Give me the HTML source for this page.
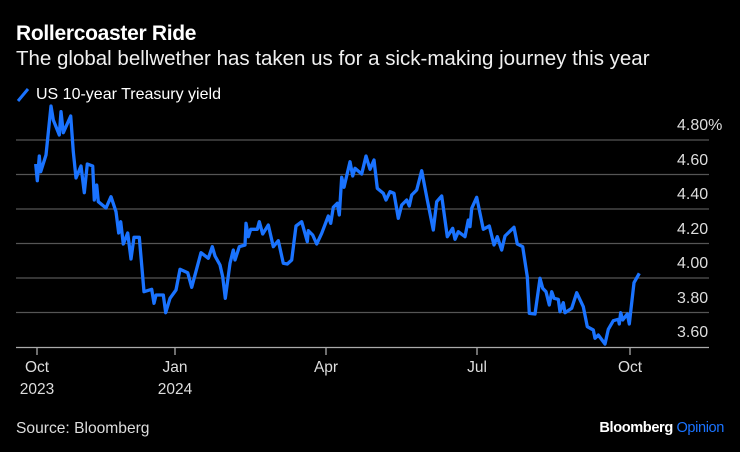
<!DOCTYPE html>
<html><head><meta charset="utf-8"><style>
html,body{margin:0;padding:0;background:#000;}
body{width:740px;height:452px;overflow:hidden;font-family:"Liberation Sans",sans-serif;color:#fff;position:relative;}
.t{position:absolute;left:16px;top:22px;font-size:21px;font-weight:bold;letter-spacing:-0.3px;}
.s{position:absolute;left:16px;top:47px;font-size:20.5px;color:#f0f0f0;}
.l{position:absolute;left:36px;top:86px;font-size:16px;}
.src{position:absolute;left:16px;top:420px;font-size:15.6px;color:#ddd;}
.bb{position:absolute;right:16px;top:420px;font-size:14.6px;font-weight:bold;letter-spacing:-0.4px;}
.bb span{color:#1a73ff;font-weight:normal;}
</style></head><body>
<div class="t">Rollercoaster Ride</div>
<div class="s">The global bellwether has taken us for a sick-making journey this year</div>
<svg style="position:absolute;left:0;top:0" width="740" height="452">
<line x1="18" y1="101" x2="28" y2="89" stroke="#1a73ff" stroke-width="3"/>
<g stroke="#555" stroke-width="1.3">
<line x1="16" y1="140" x2="709" y2="140"/><line x1="16" y1="174.5" x2="709" y2="174.5"/>
<line x1="16" y1="209" x2="709" y2="209"/><line x1="16" y1="243.5" x2="709" y2="243.5"/>
<line x1="16" y1="278" x2="709" y2="278"/><line x1="16" y1="312.5" x2="709" y2="312.5"/>
</g>
<line x1="16" y1="347.5" x2="709" y2="347.5" stroke="#aaa" stroke-width="1.3"/>
<g stroke="#aaa" stroke-width="1.3">
<line x1="37" y1="348" x2="37" y2="355"/><line x1="175" y1="348" x2="175" y2="355"/>
<line x1="326" y1="348" x2="326" y2="355"/><line x1="477" y1="348" x2="477" y2="355"/>
<line x1="630" y1="348" x2="630" y2="355"/>
</g>
<g fill="#ddd" font-size="16" font-family="Liberation Sans,sans-serif">
<text x="677" y="130">4.80%</text><text x="677" y="165">4.60</text><text x="677" y="199">4.40</text>
<text x="677" y="234">4.20</text><text x="677" y="268">4.00</text><text x="677" y="303">3.80</text><text x="677" y="337">3.60</text>
</g>
<g fill="#ddd" font-size="15.5" font-family="Liberation Sans,sans-serif" text-anchor="middle">
<text x="37" y="372">Oct</text><text x="37" y="394">2023</text>
<text x="175" y="372">Jan</text><text x="175" y="394">2024</text>
<text x="326" y="372">Apr</text><text x="477" y="372">Jul</text><text x="630" y="372">Oct</text>
</g>
<polyline fill="none" stroke="#1a73ff" stroke-width="3.3" stroke-linejoin="round" points="35.7,164 37.3,180.7 39.3,156 40.7,171.7 46,155 51,106 53.3,120 56,126.7 59.3,135 61,111.7 63.3,132.7 70.7,116 73.3,151.7 76,178 81,166 84.3,192.7 87.3,164 92.7,166 94.3,200 96.7,185 98.3,201.7 106,208 111,196.7 116,211.7 118.7,233 120.7,221.7 123.3,244 127.7,233 131,259 134,237.3 139.3,237.3 144,291.7 151.7,289.3 154,303.3 156,295 163.3,295 165.7,312.7 170,298.3 176,290 180,269.3 187.7,272.7 191.7,287.3 201,252.7 208.3,258.3 212.3,246.7 215,256 220,265 222.7,276.7 225.3,298.3 230,263.3 233.3,250 235,260 239.3,246.7 245,245 246,223.3 248.3,236.7 250.7,229.3 257.3,229.3 259.3,221.7 262.7,234 268.3,225 273.3,246.7 278.3,240.7 283.3,263.3 287.3,264 291.7,260 296,226 301.7,221.7 307.3,241.7 308.3,230.7 312.7,235 316.7,244 321.7,233.3 328.3,216 330.7,223.3 333.3,207.3 337.3,203.3 339.3,215 341.7,177.3 344,187.3 350,161.7 352.7,176 355,168.3 361.7,174 366,156 370,169.3 374,160 377.3,188.3 383.3,193.3 386,200 390,191.7 394,193.3 398.3,218.3 401.7,205 406.7,200 409.3,206 411.7,195 416.7,190 421.7,170.7 427.3,200 433.3,230 436.7,201.7 441.7,196 447.3,236.7 452.7,228.3 455,239.3 458.3,231.7 465,236.7 468.3,220 470,226.7 471.7,208.3 476.7,197.3 483.3,229.3 489.3,226 494,245 497.3,236.7 501.7,250 505,236 514,227.3 517.3,244 522.7,246.7 527.3,276.7 529.3,313.3 535,314 540,278.3 542.7,288.3 546,291.7 549.3,305 551.7,291.7 554,298.3 558.3,299.3 560,311.7 563.3,302.7 565,312.7 571.7,308.3 576.7,292.7 583.3,306.7 587.3,326.7 593.3,330 595,338.3 598.3,335 605,344 608.3,329.3 613.3,320.7 618.3,319.3 619.3,324 620.7,312.7 622.7,320 627.3,314 629.3,324 634,282.7 639.3,273.3"/>
</svg>
<div class="l">US 10-year Treasury yield</div>
<div class="src">Source: Bloomberg</div>
<div class="bb">Bloomberg <span>Opinion</span></div>
</body></html>
